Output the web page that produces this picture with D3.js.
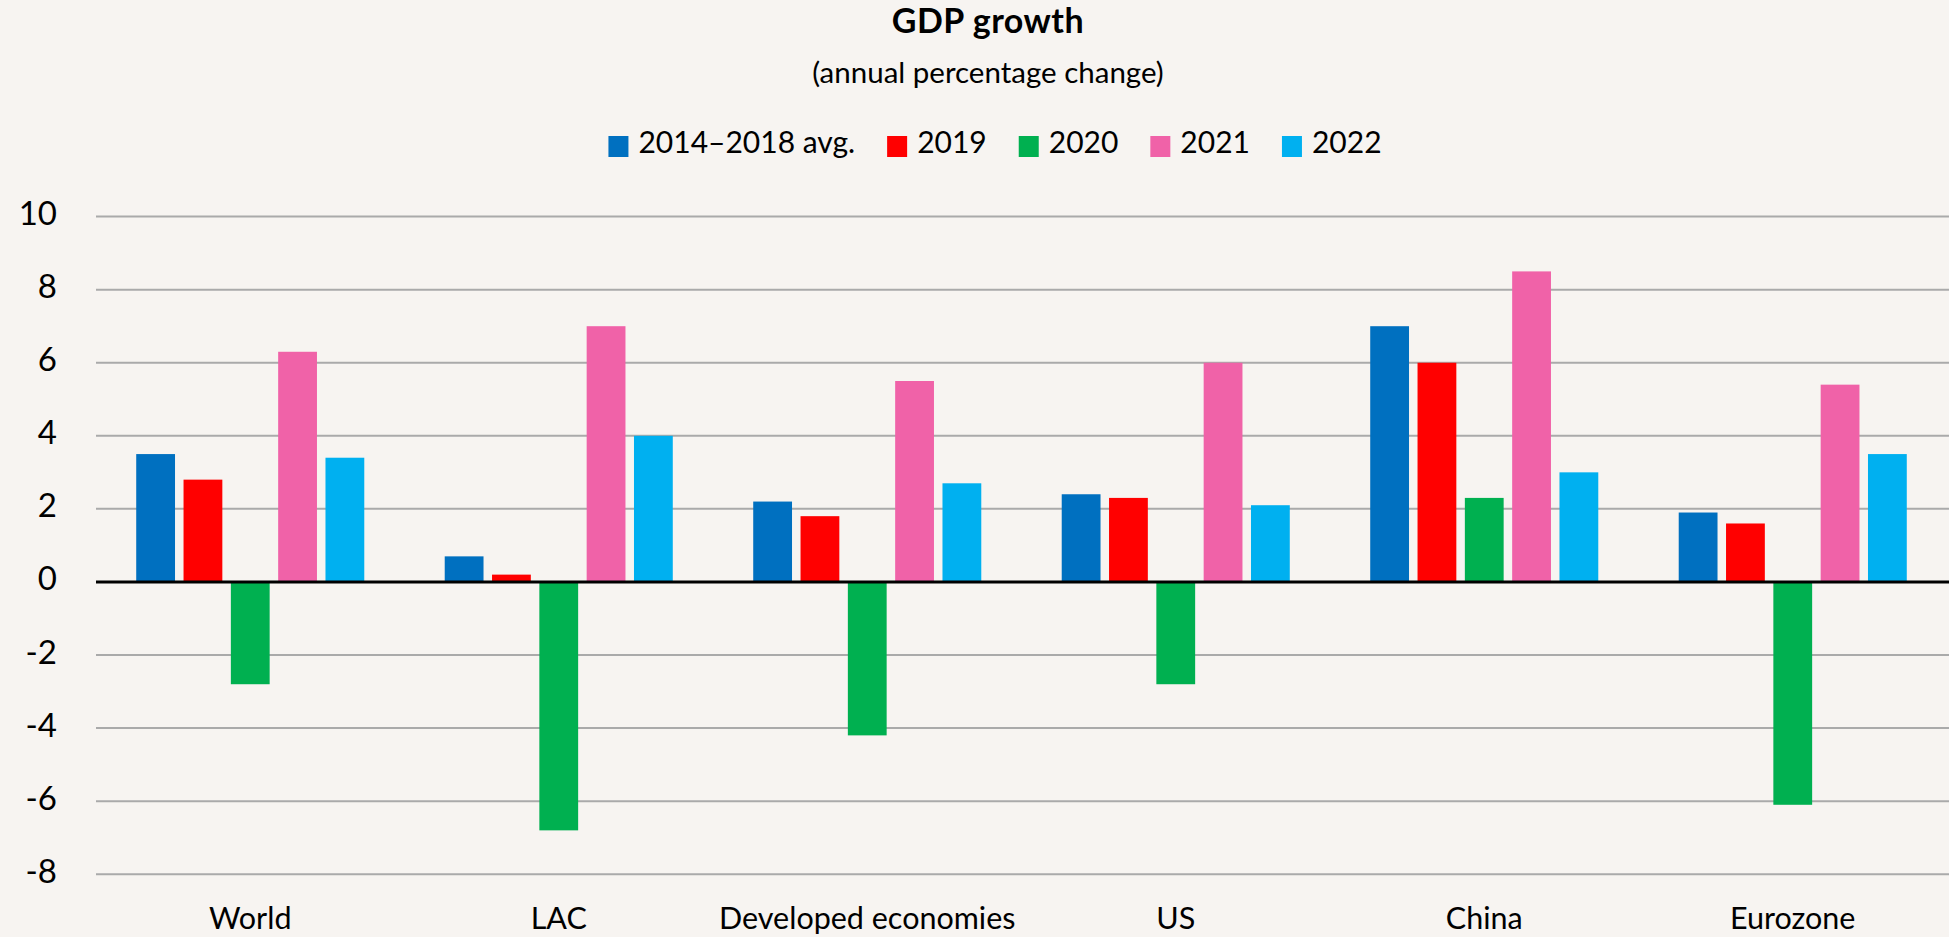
<!DOCTYPE html>
<html>
<head>
<meta charset="utf-8">
<script src="https://cdn.jsdelivr.net/npm/d3@7"></script>
<style>
  html, body { margin: 0; padding: 0; background: #f7f4f1; }
  svg { display: block; }
  text { font-family: Lato, "Noto Sans", sans-serif; fill: #000; }
</style>
</head>
<body>
<svg id="chart" width="1949" height="937"></svg>
<script>
// Regions shown along the x axis
const regions = ["World", "LAC", "Developed economies", "US", "China", "Eurozone"];

// Series (one bar per region each), in legend order
const seriesNames = ["2014-2018 avg.", "2019", "2020", "2021", "2022"];

// Annual GDP growth, % — one array per series, aligned with `regions`
const avg2014_2018 = [3.5, 0.7, 2.2, 2.4, 7.0, 1.9];
const y2019        = [2.8, 0.2, 1.8, 2.3, 6.0, 1.6];
const y2020        = [-2.8, -6.8, -4.2, -2.8, 2.3, -6.1];
const y2021        = [6.3, 7.0, 5.5, 6.0, 8.5, 5.4];
const y2022        = [3.4, 4.0, 2.7, 2.1, 3.0, 3.5];

// Y axis tick values
const yTicks = [-8, -6, -4, -2, 0, 2, 4, 6, 8, 10];

const seriesValues = [avg2014_2018, y2019, y2020, y2021, y2022];
const colors = ["#0070c0", "#ff0000", "#00b050", "#f062a8", "#00b0f0"];

const W = 1949, H = 937;
const margin = { left: 96, right: 2, top: 216.6, bottom: H - 874.2 };

const svg = d3.select("#chart");

svg.append("rect").attr("width", W).attr("height", H).attr("fill", "#f7f4f1");

const x0 = d3.scaleBand()
  .domain(regions)
  .range([margin.left, W - margin.right])
  .padding(0);

const x1 = d3.scaleBand()
  .domain(seriesNames)
  .range([0, x0.bandwidth()])
  .paddingInner(0.18)
  .paddingOuter(0.85);

const y = d3.scaleLinear()
  .domain([-8, 10])
  .range([H - margin.bottom, margin.top]);

// Horizontal gridlines
svg.append("g")
  .selectAll("line")
  .data(yTicks.filter(t => t !== 0))
  .join("line")
  .attr("x1", margin.left)
  .attr("x2", W)
  .attr("y1", d => y(d))
  .attr("y2", d => y(d))
  .attr("stroke", "#aaaaaa")
  .attr("stroke-width", 2);

// Y axis labels
svg.append("g")
  .selectAll("text")
  .data(yTicks)
  .join("text")
  .attr("x", 57)
  .attr("y", d => y(d) + 8.5)
  .attr("text-anchor", "end")
  .attr("font-size", 33)
  .text(d => d < 0 ? "-" + Math.abs(d) : String(d));

// Bars
const groups = svg.append("g")
  .selectAll("g")
  .data(regions)
  .join("g")
  .attr("transform", d => `translate(${x0(d)},0)`);

groups.selectAll("rect")
  .data((region, i) => seriesNames.map((s, k) => ({ series: s, k, value: seriesValues[k][i] })))
  .join("rect")
  .attr("x", d => x1(d.series))
  .attr("width", x1.bandwidth())
  .attr("y", d => y(Math.max(0, d.value)))
  .attr("height", d => Math.abs(y(d.value) - y(0)))
  .attr("fill", d => colors[d.k]);

// Zero baseline
svg.append("line")
  .attr("x1", margin.left)
  .attr("x2", W)
  .attr("y1", y(0))
  .attr("y2", y(0))
  .attr("stroke", "#000")
  .attr("stroke-width", 3);

// Category labels
svg.append("g")
  .selectAll("text")
  .data(regions)
  .join("text")
  .attr("x", d => x0(d) + x0.bandwidth() / 2)
  .attr("y", 929)
  .attr("text-anchor", "middle")
  .attr("font-size", 30.5)
  .text(d => d);

// Title and subtitle
const titleX = 988;
svg.append("text")
  .attr("x", titleX)
  .attr("y", 33)
  .attr("text-anchor", "middle")
  .attr("font-size", 34)
  .attr("font-weight", "bold")
  .attr("letter-spacing", 0.5)
  .text("GDP growth");

svg.append("text")
  .attr("x", titleX)
  .attr("y", 83)
  .attr("text-anchor", "middle")
  .attr("font-size", 29.5)
  .text("(annual percentage change)");

// Legend
const legend = svg.append("g");
const items = legend.selectAll("g")
  .data(seriesNames)
  .join("g");

items.append("rect")
  .attr("width", 20)
  .attr("height", 21)
  .attr("y", 136)
  .attr("fill", (d, i) => colors[i]);

items.append("text")
  .attr("x", 30)
  .attr("y", 153)
  .attr("font-size", 30)
  .text(d => d.replace("-", "\u2013"));

let cursor = 0;
items.each(function () {
  const g = d3.select(this);
  g.attr("transform", `translate(${cursor},0)`);
  const w = g.select("text").node().getComputedTextLength();
  cursor += 30 + w + 32;
});
const legendWidth = cursor - 32;
legend.attr("transform", `translate(${995 - legendWidth / 2},0)`);
</script>
</body>
</html>
